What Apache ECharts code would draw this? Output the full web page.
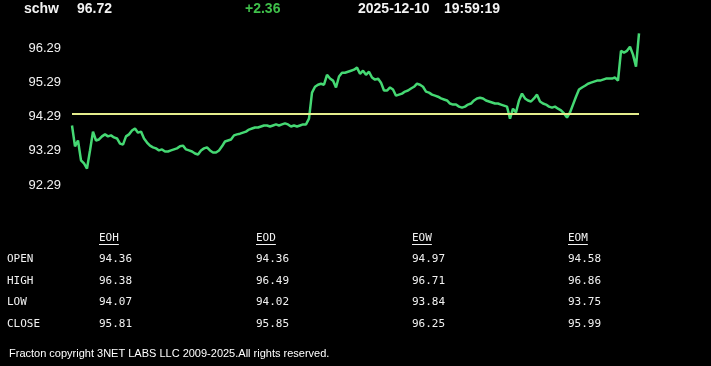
<!DOCTYPE html>
<html>
<head>
<meta charset="utf-8">
<script src="https://cdn.jsdelivr.net/npm/echarts@6/dist/echarts.min.js"></script>
<style>
html,body{margin:0;padding:0;background:#000;}
#chart{width:711px;height:366px;}
</style>
</head>
<body>
<div id="chart"></div>
<script>
// ---- header ----
const ticker = 'schw';
const lastPrice = '96.72';
const changeText = '+2.36';
const dateText = '2025-12-10';
const timeText = '19:59:19';
const footerText = 'Fracton copyright 3NET LABS LLC 2009-2025.All rights reserved.';

// ---- reference line (previous close) ----
const prevClose = 94.36;

// ---- y axis ticks ----
const yMin = 92.29;
const yMax = 96.79;
const yStep = 1;

// ---- intraday prices (evenly spaced samples) ----
const prices = [
  94.03, 93.42, 93.59, 93.01, 92.92, 92.77, 93.30, 93.85, 93.59, 93.62,
  93.71, 93.77, 93.71, 93.74, 93.68, 93.65, 93.50, 93.47, 93.71, 93.77,
  93.88, 93.94, 93.82, 93.85, 93.65, 93.53, 93.44, 93.39, 93.36, 93.30,
  93.33, 93.27, 93.27, 93.30, 93.33, 93.36, 93.42, 93.44, 93.33, 93.30,
  93.27, 93.21, 93.18, 93.30, 93.36, 93.39, 93.30, 93.24, 93.24, 93.30,
  93.42, 93.56, 93.59, 93.62, 93.74, 93.77, 93.79, 93.82, 93.85, 93.91,
  93.94, 93.97, 93.97, 94.00, 94.03, 94.03, 94.00, 94.03, 94.06, 94.03,
  94.06, 94.09, 94.06, 94.00, 94.03, 94.00, 94.03, 94.06, 94.06, 94.23,
  94.99, 95.16, 95.22, 95.25, 95.22, 95.51, 95.40, 95.34, 95.14, 95.46,
  95.57, 95.57, 95.60, 95.63, 95.66, 95.72, 95.54, 95.63, 95.51, 95.60,
  95.43, 95.37, 95.40, 95.28, 95.05, 95.05, 95.14, 95.08, 94.90, 94.93,
  94.96, 95.02, 95.05, 95.11, 95.16, 95.25, 95.22, 95.16, 95.02, 94.99,
  94.93, 94.90, 94.87, 94.82, 94.79, 94.76, 94.67, 94.64, 94.64, 94.58,
  94.55, 94.58, 94.64, 94.67, 94.76, 94.82, 94.84, 94.82, 94.76, 94.73,
  94.70, 94.67, 94.67, 94.64, 94.61, 94.58, 94.23, 94.52, 94.41, 94.76,
  94.96, 94.82, 94.76, 94.73, 94.82, 94.93, 94.73, 94.67, 94.64, 94.58,
  94.55, 94.58, 94.52, 94.47, 94.38, 94.26, 94.41, 94.64, 94.87, 95.08,
  95.14, 95.19, 95.25, 95.28, 95.31, 95.34, 95.34, 95.37, 95.40, 95.40,
  95.40, 95.43, 95.34, 96.21, 96.16, 96.21, 96.33, 96.10, 95.75, 96.72
];
const sampleIdx = prices.map((_, i) => i);

// ---- summary table ----
const periods = ['EOH', 'EOD', 'EOW', 'EOM'];
const rowLabels = ['OPEN', 'HIGH', 'LOW', 'CLOSE'];
const openVals  = ['94.36', '94.36', '94.97', '94.58'];
const highVals  = ['96.38', '96.49', '96.71', '96.86'];
const lowVals   = ['94.07', '94.02', '93.84', '93.75'];
const closeVals = ['95.81', '95.85', '96.25', '95.99'];

const chart = echarts.init(document.getElementById('chart'), null, {renderer: 'canvas'});

const sansBold = 'bold 14px "Liberation Sans", Arial, sans-serif';
const mono = '11px "DejaVu Sans Mono", "Liberation Mono", monospace';
const txtColor = '#f2f2f2';

function txt(x, y, text, font, fill) {
  return {
    type: 'text', x: x, y: y, silent: true,
    style: {text: text, font: font, fill: fill || txtColor,
            align: 'left', verticalAlign: 'middle',
            textAlign: 'left', textVerticalAlign: 'middle'}
  };
}

const graphics = [
  txt(24, 9, ticker, sansBold),
  txt(77, 9, lastPrice, sansBold),
  txt(245, 9, changeText, sansBold, '#3fbf4a'),
  txt(358, 9, dateText, sansBold),
  txt(444, 9, timeText, sansBold),
  txt(9, 354, footerText, '11px "Liberation Sans", Arial, sans-serif', '#ffffff')
];

const colX = [99, 256, 412, 568];
const headerY = 238;
const rowY = [259, 281, 302, 324];
const tableVals = [openVals, highVals, lowVals, closeVals];

periods.forEach((p, i) => {
  graphics.push(txt(colX[i], headerY, p, mono));
  graphics.push({
    type: 'line', silent: true,
    shape: {x1: colX[i], y1: headerY + 6.5, x2: colX[i] + p.length * 6.62, y2: headerY + 6.5},
    style: {stroke: txtColor, lineWidth: 1}
  });
});
rowLabels.forEach((r, j) => {
  graphics.push(txt(7, rowY[j], r, mono));
  tableVals[j].forEach((v, i) => {
    graphics.push(txt(colX[i], rowY[j], v, mono));
  });
});

chart.setOption({
  backgroundColor: '#000000',
  animation: false,
  grid: {left: 72, top: 31, width: 567, height: 154, containLabel: false},
  xAxis: {
    type: 'category', data: sampleIdx, boundaryGap: false, show: false
  },
  yAxis: {
    type: 'value', min: yMin, max: yMax, interval: yStep,
    axisLine: {show: false}, axisTick: {show: false}, splitLine: {show: false},
    axisLabel: {
      color: txtColor, fontSize: 13, fontFamily: '"Liberation Sans", Arial, sans-serif',
      margin: 11, showMaxLabel: false, showMinLabel: true,
      formatter: v => v.toFixed(2)
    }
  },
  series: [{
    type: 'line', data: prices, showSymbol: false, smooth: false,
    lineStyle: {color: '#45d873', width: 2.5},
    markLine: {
      silent: true, symbol: 'none', label: {show: false},
      lineStyle: {color: '#e4ec8c', width: 2, type: 'solid'},
      data: [{yAxis: prevClose}]
    },
    z: 3
  }],
  graphic: graphics
});
</script>
</body>
</html>
